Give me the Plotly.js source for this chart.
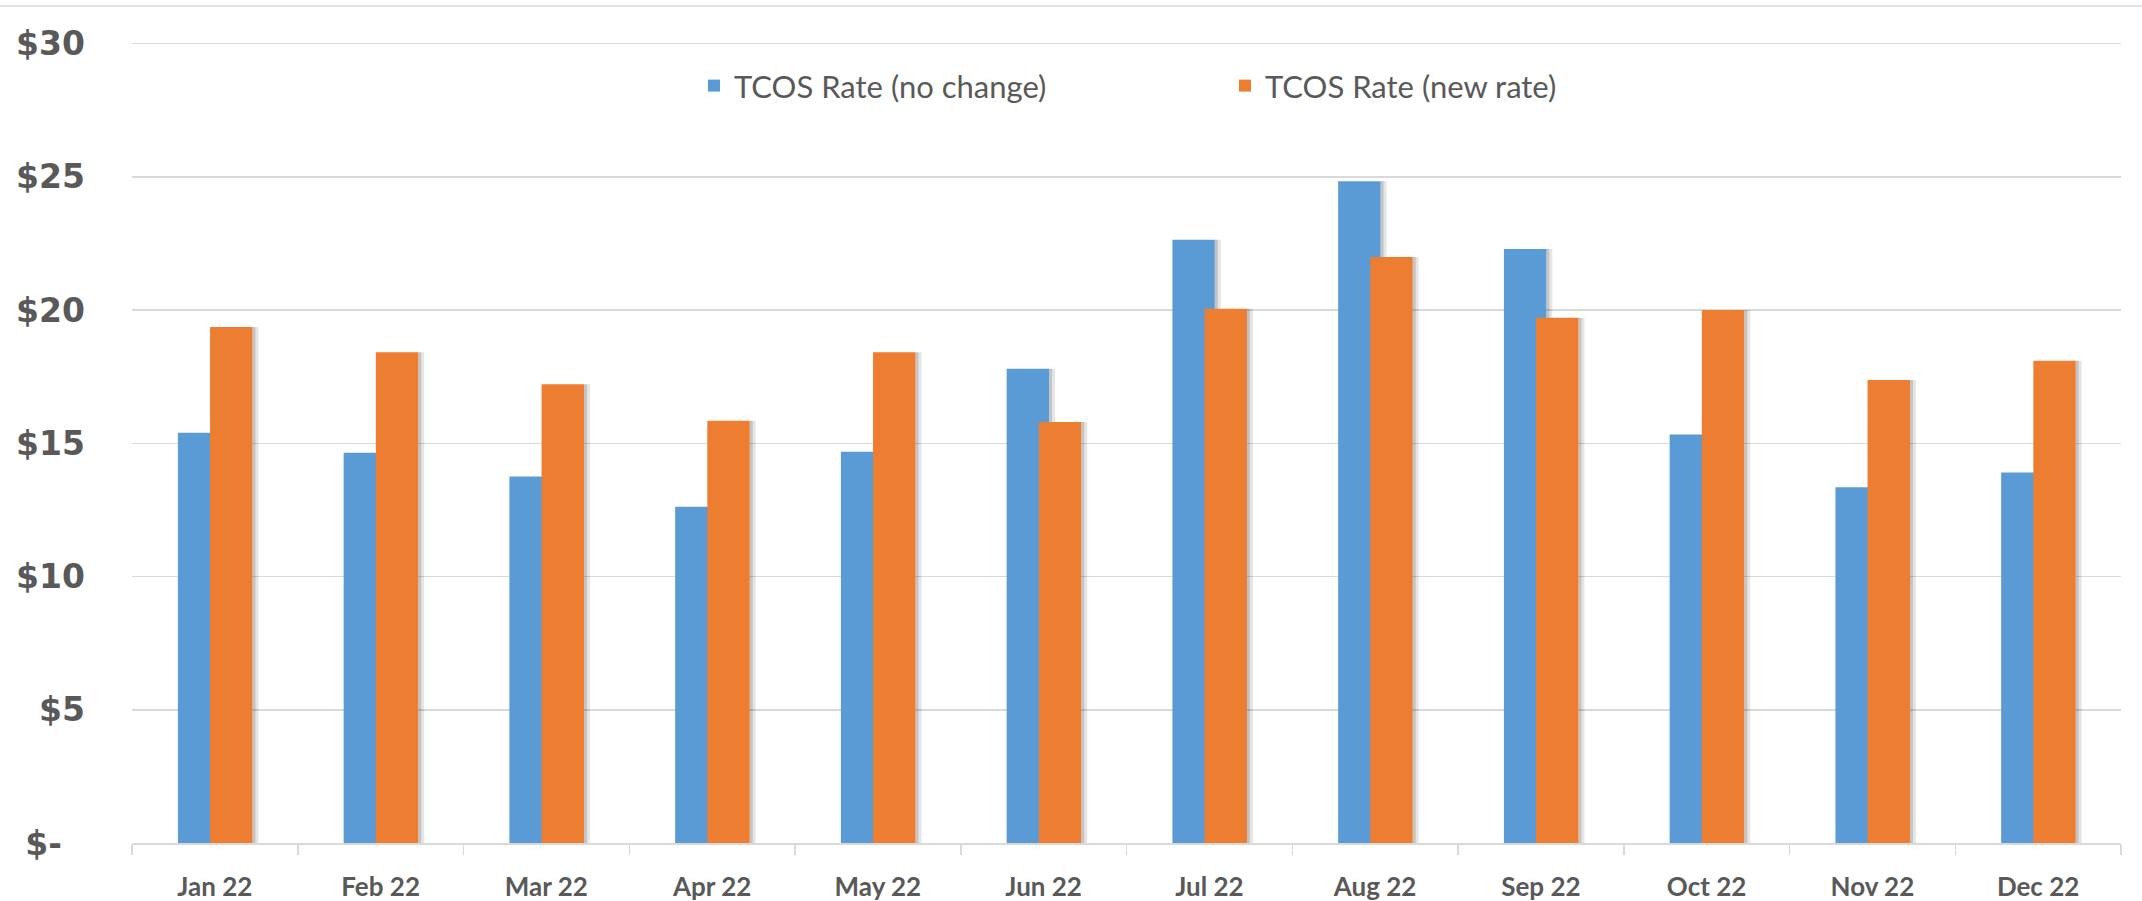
<!DOCTYPE html>
<html>
<head>
<meta charset="utf-8">
<script src="https://cdn.plot.ly/plotly-3.0.1.min.js"></script>
<style>
html,body{margin:0;padding:0;background:#fff;}
#chart{width:2142px;height:901px;}
</style>
</head>
<body>
<div id="chart"></div>
<script>
const months = ["Jan 22","Feb 22","Mar 22","Apr 22","May 22","Jun 22","Jul 22","Aug 22","Sep 22","Oct 22","Nov 22","Dec 22"];
const noChange = [15.4, 14.65, 13.75, 12.62, 14.68, 17.8, 22.64, 24.83, 22.29, 15.33, 13.35, 13.9];
const newRate = [19.36, 18.42, 17.22, 15.85, 18.42, 15.8, 20.05, 21.99, 19.71, 20.0, 17.38, 18.1];
const yTickVals = [0, 5, 10, 15, 20, 25, 30];
const yTickText = ["$-\u00a0\u00a0", "$5", "$10", "$15", "$20", "$25", "$30"];
const seriesNames = ["TCOS Rate (no change)", "TCOS Rate (new rate)"];

const BLUE = "#5B9BD5", ORANGE = "#ED7D31", TXT = "#595959", GRID = "#D9D9D9";
const W = 0.256, OFF_B = -0.223, OFF_O = -0.029;

function shadow(y, off, w, op) {
  return {type: "bar", x: months, y: y, offset: off, width: w,
    marker: {color: "rgba(0,0,0," + op + ")", line: {width: 0}},
    showlegend: false, hoverinfo: "skip"};
}

const traces = [
  shadow(noChange, OFF_B + W, 0.036, 0.10),
  shadow(noChange, OFF_B + W, 0.018, 0.14),
  {type: "bar", name: seriesNames[0], x: months, y: noChange, offset: OFF_B, width: W,
   marker: {color: BLUE, line: {width: 0}}},
  shadow(newRate, OFF_O + W, 0.036, 0.10),
  shadow(newRate, OFF_O + W, 0.018, 0.14),
  {type: "bar", name: seriesNames[1], x: months, y: newRate, offset: OFF_O, width: W,
   marker: {color: ORANGE, line: {width: 0}}}
];

const layout = {
  width: 2142, height: 901,
  margin: {l: 132, r: 21, t: 42, b: 58, autoexpand: false},
  paper_bgcolor: "#fff", plot_bgcolor: "#fff",
  barmode: "overlay",
  showlegend: true,
  legend: {
    orientation: "h", xref: "container", yref: "container",
    x: 0.324, xanchor: "left", y: 0.9046, yanchor: "middle",
    entrywidth: 486, entrywidthmode: "pixels",
    font: {family: "Lato, sans-serif", size: 31, color: TXT},
    bgcolor: "rgba(0,0,0,0)", traceorder: "normal"
  },
  xaxis: {
    type: "category",
    showgrid: false, zeroline: false,
    showline: true, linecolor: GRID, linewidth: 1.5,
    ticks: "outside", tickson: "boundaries", ticklen: 10, tickcolor: GRID, tickwidth: 1.5,
    ticklabelstandoff: 20,
    tickfont: {family: "Lato, sans-serif", size: 26, color: TXT, weight: "bold"},
    fixedrange: true
  },
  yaxis: {
    range: [0, 30.06], tickvals: yTickVals, ticktext: yTickText,
    showgrid: true, gridcolor: GRID, gridwidth: 1.5,
    zeroline: false, showline: false, ticks: "",
    ticklabelstandoff: 46,
    tickfont: {family: "DejaVu Sans, sans-serif", size: 33, color: TXT, weight: "bold"},
    fixedrange: true
  },
  shapes: [{type: "line", xref: "paper", yref: "paper", x0: -0.08, x1: 1.02,
            y0: 1.045, y1: 1.045, line: {color: GRID, width: 1.5}}]
};

Plotly.newPlot("chart", traces, layout, {staticPlot: true, displayModeBar: false});
</script>
</body>
</html>
